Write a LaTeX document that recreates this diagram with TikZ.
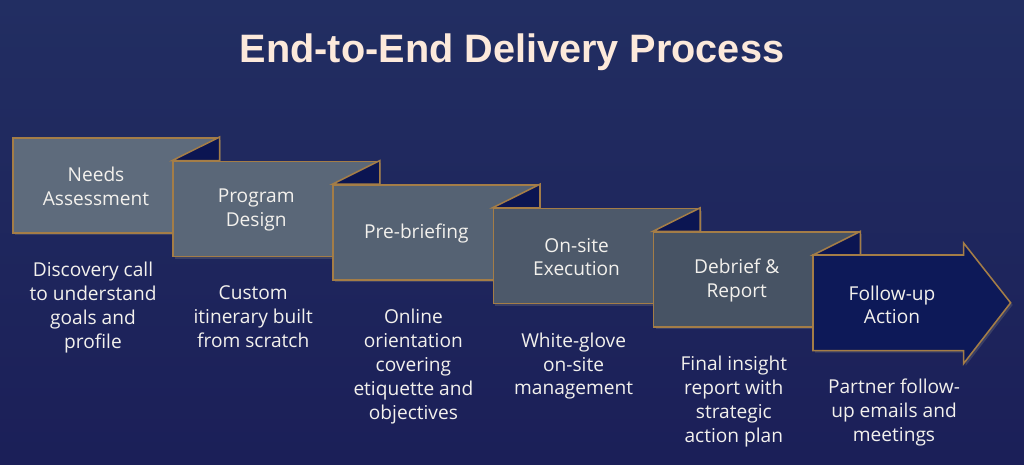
\documentclass[tikz,border=0pt]{standalone}
\usepackage{fontspec}
\setmainfont{Open Sans}
\newfontfamily\titlefont{Liberation Sans}
\usetikzlibrary{positioning, calc, shadows}
\definecolor{navytop}{HTML}{222E62}
\definecolor{navybot}{HTML}{1B1F58}
\definecolor{gold}{HTML}{A47D47}
\definecolor{foldnavy}{HTML}{0B1552}
\definecolor{arrownavy}{HTML}{0D1958}
\definecolor{cream}{HTML}{FCE9DB}
\definecolor{paper}{HTML}{F3F1ED}
\definecolor{stage1}{HTML}{5E6B7C}
\definecolor{stage2}{HTML}{5A6778}
\definecolor{stage3}{HTML}{556273}
\definecolor{stage4}{HTML}{4D596A}
\definecolor{stage5}{HTML}{475364}

\begin{document}
\begin{tikzpicture}[
    x=0.025cm, y=-0.025cm,
    % Node styles
    stage box/.style={
        rectangle,
        draw=gold,
        line width=1.1pt,
        minimum width=5.15cm,
        minimum height=2.375cm,
        inner sep=0pt,
        anchor=north west,
        drop shadow={opacity=0.3, shadow xshift=1.5pt, shadow yshift=-1.5pt}
    },
    fold/.style={
        fill=foldnavy,
        draw=gold,
        line width=1.1pt,
        line join=miter
    },
    stage label/.style={
        align=center,
        inner sep=0pt,
        text=paper,
        font=\fontsize{13.6}{17}\selectfont
    },
    stage note/.style={
        align=center,
        anchor=north,
        inner sep=0pt,
        text=paper,
        font=\fontsize{13.6}{17}\selectfont
    }
]

% Background
\shade[top color=navytop, bottom color=navybot] (0,0) rectangle (1024,465);
\useasboundingbox (0,0) rectangle (1024,465);

% Title
\node[font=\titlefont\bfseries\fontsize{28.2}{32}\selectfont, text=cream] (title) at (512,52) {End-to-End Delivery Process};

% Corner of every stage
\foreach \i in {1,...,6} {
    \coordinate (C-\i) at ({12+(\i-1)*160.2}, {137+(\i-1)*23.6});
}

% Stages 1 to 5 (each with its folded corner)
\foreach \i/\shade/\lbl in {1/stage1/{Needs\\Assessment},
                            2/stage2/{Program\\Design},
                            3/stage3/{Pre-briefing},
                            4/stage4/{On-site\\Execution},
                            5/stage5/{Debrief \&\\Report}} {
    \pgfmathtruncatemacro{\nxt}{\i+1}
    \node[stage box, fill=\shade] (S-\i) at (C-\i) {};
    \draw[fold] (C-\nxt) -- (S-\i.north east) -- (S-\i.north east |- C-\nxt) -- cycle;
    \node[stage label] (L-\i) at ($(S-\i.west)+(84,1)$) {\lbl};
}

% Stage 6: the arrow
\node[rectangle, minimum width=3.75cm, minimum height=2.375cm, inner sep=0pt, anchor=north west] (S-6) at (C-6) {};
\draw[fill=arrownavy, draw=gold, line width=1.1pt,
      drop shadow={opacity=0.3, shadow xshift=1.5pt, shadow yshift=-1.5pt}]
    (S-6.north west) -- (S-6.north east) -- ++(0,-12) -- ($(S-6.east)+(47,0)$)
    -- ($(S-6.south east)+(0,13)$) -- (S-6.south east) -- (S-6.south west) -- cycle;
\node[stage label] (L-6) at ($(S-6.west)+(79,2)$) {Follow-up\\Action};

% Notes below the stages
\foreach \i/\txt in {1/{Discovery call\\to understand\\goals and\\profile},
                     2/{Custom\\itinerary built\\from scratch},
                     3/{Online\\orientation\\covering\\etiquette and\\objectives},
                     4/{White-glove\\on-site\\management},
                     5/{Final insight\\report with\\strategic\\action plan},
                     6/{Partner follow-\\up emails and\\meetings}} {
    \node[stage note] (N-\i) at ($(S-\i.south west)+(81,28)$) {\txt};
}

\end{tikzpicture}
\end{document}
